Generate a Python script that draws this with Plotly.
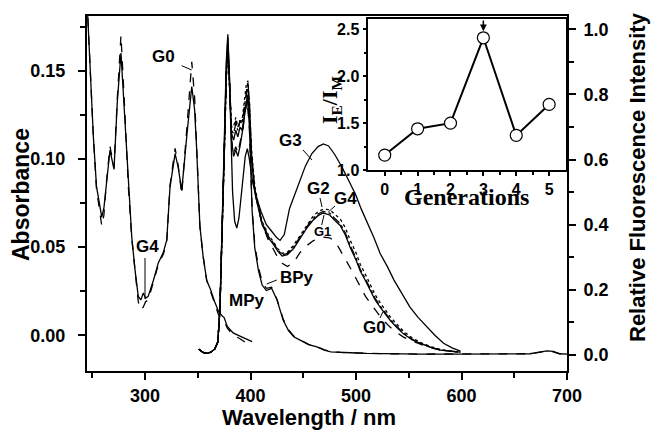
import plotly.graph_objects as go

# ---------------- data ----------------
# Absorption spectra (left axis)
abs_wl = [245, 248, 251, 254, 257.3, 259, 261, 263.6, 266.8, 270.6, 273.7, 277.2, 281, 284.2, 287.4,
          290.5, 293.6, 296, 298.4, 300.5, 303, 307.9, 312.6, 317.4, 320.6, 323.7, 328.5, 331.5, 334.8,
          339.6, 344.3, 347, 349, 352, 355, 358.5, 362, 366, 370, 373, 375, 378, 383.5, 390, 395, 401.5]
abs_G4 = [0.19, 0.15, 0.113, 0.0844, 0.073, 0.067, 0.072, 0.088, 0.105, 0.094, 0.132, 0.160, 0.122, 0.084,
          0.056, 0.037, 0.022, 0.020, 0.024, 0.021, 0.022, 0.031, 0.041, 0.047, 0.054, 0.084, 0.103, 0.095,
          0.082, 0.113, 0.141, 0.128, 0.105, 0.062, 0.045, 0.031, 0.026, 0.019, 0.013, 0.011, 0.010, 0.005,
          0.0013, -0.0005, -0.002, -0.0036]
abs_G0 = [0.19, 0.15, 0.113, 0.083, 0.070, 0.062, 0.068, 0.088, 0.107, 0.095, 0.134, 0.170, 0.125, 0.084,
          0.055, 0.035, 0.019, 0.0144, 0.016, 0.019, 0.020, 0.030, 0.040, 0.046, 0.053, 0.085, 0.106, 0.096,
          0.080, 0.117, 0.155, 0.135, 0.108, 0.062, 0.045, 0.031, 0.025, 0.018, 0.011, 0.009, 0.008, 0.004,
          0.000, -0.002, -0.004, -0.006]

# Fluorescence spectra (right axis)
em_wl = [351, 355, 358, 362, 366, 369, 371, 373, 375, 377, 378.5, 380, 382, 384, 386, 388, 390, 392, 394, 396,
         397.5, 399, 401, 404, 407.5, 411, 414, 417, 421.7, 426, 430, 435, 441, 447, 453, 459, 464, 469, 475,
         480, 485, 490, 494.5, 500, 504, 509, 513.5, 518, 523, 528, 532.5, 539, 545, 553, 561, 570, 580, 590, 599]
em_G0 = [0.018, 0.008, 0.005, 0.008, 0.018, 0.04, 0.14, 0.35, 0.60, 0.85, 0.95, 0.84, 0.70, 0.69, 0.72,
         0.69, 0.72, 0.71, 0.76, 0.81, 0.83, 0.76, 0.61, 0.50, 0.452, 0.40, 0.378, 0.352, 0.325, 0.298,
         0.282, 0.272, 0.285, 0.315, 0.335, 0.350, 0.358, 0.362, 0.360, 0.350, 0.322, 0.295, 0.268, 0.235,
         0.212, 0.180, 0.160, 0.140, 0.118, 0.100, 0.085, 0.068, 0.055, 0.043, 0.033, 0.023, 0.015, 0.011, 0.009]
em_G1 = [0.018, 0.008, 0.005, 0.008, 0.018, 0.04, 0.14, 0.35, 0.60, 0.85, 0.94, 0.83, 0.68, 0.66, 0.69,
         0.67, 0.70, 0.69, 0.73, 0.78, 0.80, 0.74, 0.60, 0.50, 0.452, 0.40, 0.381, 0.360, 0.340, 0.318,
         0.304, 0.308, 0.328, 0.358, 0.388, 0.413, 0.428, 0.436, 0.430, 0.413, 0.398, 0.368, 0.330, 0.292,
         0.258, 0.228, 0.197, 0.170, 0.146, 0.124, 0.106, 0.084, 0.065, 0.047, 0.035, 0.024, 0.015, 0.011, 0.009]
em_G2 = [0.018, 0.008, 0.005, 0.008, 0.018, 0.04, 0.14, 0.35, 0.60, 0.85, 0.95, 0.84, 0.69, 0.68, 0.71,
         0.69, 0.72, 0.71, 0.76, 0.82, 0.84, 0.77, 0.62, 0.51, 0.458, 0.405, 0.385, 0.364, 0.344, 0.322,
         0.308, 0.312, 0.333, 0.363, 0.393, 0.418, 0.433, 0.441, 0.436, 0.419, 0.404, 0.374, 0.336, 0.298,
         0.264, 0.233, 0.202, 0.175, 0.150, 0.128, 0.109, 0.087, 0.067, 0.049, 0.036, 0.025, 0.016, 0.011, 0.009]
em_G4 = [0.018, 0.008, 0.005, 0.008, 0.018, 0.04, 0.14, 0.35, 0.60, 0.85, 0.95, 0.84, 0.70, 0.70, 0.73,
         0.70, 0.72, 0.72, 0.77, 0.83, 0.842, 0.78, 0.63, 0.52, 0.462, 0.41, 0.39, 0.368, 0.348, 0.326,
         0.312, 0.316, 0.338, 0.368, 0.398, 0.425, 0.440, 0.448, 0.446, 0.432, 0.418, 0.390, 0.352, 0.314,
         0.279, 0.247, 0.214, 0.186, 0.160, 0.137, 0.117, 0.094, 0.073, 0.053, 0.039, 0.027, 0.017, 0.012, 0.009]

g3_wl = [351, 355, 358, 362, 366, 369, 371, 373, 375, 377, 378.5, 380, 381.5, 383, 385, 387, 389, 392, 395,
         397, 399, 402, 406, 410, 415, 420, 425, 428, 432, 437, 445, 452, 458, 464, 469, 474, 480, 487, 494,
         500, 505, 510, 517, 523, 530, 536, 543, 551, 559, 567, 575, 583, 591, 599]
em_G3 = [0.018, 0.008, 0.005, 0.008, 0.018, 0.04, 0.14, 0.35, 0.62, 0.88, 0.975, 0.85, 0.65, 0.50, 0.41,
         0.39, 0.42, 0.52, 0.61, 0.634, 0.60, 0.53, 0.48, 0.44, 0.40, 0.38, 0.36, 0.352, 0.37, 0.45, 0.52,
         0.58, 0.618, 0.64, 0.648, 0.642, 0.615, 0.575, 0.53, 0.49, 0.448, 0.413, 0.36, 0.311, 0.27, 0.23,
         0.19, 0.148, 0.115, 0.087, 0.06, 0.036, 0.022, 0.012]

py_wl = [351, 355, 358, 362, 366, 369, 371, 373, 375, 377, 378.5, 380, 382, 384, 386, 388, 390, 393, 395,
         397, 399, 401.5, 404, 407.5, 411, 415, 420, 425, 431, 436, 441, 447, 455, 463, 470, 476, 485, 495,
         510, 530, 560, 600, 640, 665, 675, 681, 687, 693, 700]
em_MPy = [0.018, 0.008, 0.005, 0.008, 0.018, 0.04, 0.14, 0.36, 0.64, 0.90, 0.985, 0.86, 0.66, 0.61, 0.63,
          0.61, 0.64, 0.70, 0.76, 0.79, 0.70, 0.444, 0.33, 0.26, 0.215, 0.198, 0.205, 0.17, 0.107, 0.075,
          0.056, 0.046, 0.032, 0.025, 0.015, 0.010, 0.008, 0.007, 0.005, 0.004, 0.003, 0.003, 0.003, 0.004,
          0.010, 0.013, 0.011, 0.004, 0.003]
em_BPy = [0.018, 0.008, 0.005, 0.008, 0.018, 0.04, 0.14, 0.35, 0.62, 0.87, 0.95, 0.84, 0.66, 0.62, 0.64,
          0.62, 0.65, 0.70, 0.75, 0.78, 0.69, 0.45, 0.34, 0.27, 0.225, 0.205, 0.208, 0.172, 0.110, 0.078,
          0.058, 0.047, 0.033, 0.025, 0.016, 0.011, 0.008, 0.007, 0.005, 0.004, 0.003, 0.003, 0.003, 0.004,
          0.009, 0.012, 0.010, 0.004, 0.003]

# Inset: IE/IM vs generation
generations = [0, 1, 2, 3, 4, 5]
ie_im = [1.16, 1.44, 1.50, 2.41, 1.37, 1.70]

# Tick values / labels
x_ticks = [300, 400, 500, 600, 700]
x_minor = [250, 350, 450, 550, 650]
abs_ticks = [0.00, 0.05, 0.10, 0.15]
abs_labels = ["0.00", "0.05", "0.10", "0.15"]
abs_minor = [0.025, 0.075, 0.125, 0.175]
fl_ticks = [0.0, 0.2, 0.4, 0.6, 0.8, 1.0]
fl_labels = ["0.0", "0.2", "0.4", "0.6", "0.8", "1.0"]
fl_minor = [0.1, 0.3, 0.5, 0.7, 0.9]
in_yticks = [1.0, 1.5, 2.0, 2.5]
in_ylabels = ["1.0", "1.5", "2.0", "2.5"]
in_yminor = [1.25, 1.75, 2.25]
in_xminor = [0.5, 1.5, 2.5, 3.5, 4.5]

# ---------------- figure ----------------
fig = go.Figure()
LW = 1.3
blk = "black"

def line(x, y, dash, yaxis="y", xaxis="x", w=LW):
    fig.add_trace(go.Scatter(x=x, y=y, mode="lines", xaxis=xaxis, yaxis=yaxis,
                             line=dict(color=blk, width=w, dash=dash), hoverinfo="skip"))

line(abs_wl, abs_G0, "dash")
line(abs_wl, abs_G4, "solid")
line(em_wl, em_G0, "dash", yaxis="y2")
line(em_wl, em_G1, "solid", yaxis="y2")
line(em_wl, em_G2, "dashdot", yaxis="y2")
line(em_wl, em_G4, "dot", yaxis="y2")
line(g3_wl, em_G3, "solid", yaxis="y2")
line(py_wl, em_BPy, "dash", yaxis="y2")
line(py_wl, em_MPy, "solid", yaxis="y2")

fig.add_trace(go.Scatter(x=generations, y=ie_im, mode="lines+markers", xaxis="x3", yaxis="y3",
                         line=dict(color=blk, width=2),
                         marker=dict(size=12, color="white", line=dict(color=blk, width=1.2)),
                         hoverinfo="skip"))

tf = dict(family="Liberation Sans", size=18, color=blk, weight="bold")
tfi = dict(family="Liberation Sans", size=16, color=blk, weight="bold")

common = dict(showgrid=False, zeroline=False, showline=True, linecolor=blk, ticks="outside",
              tickcolor=blk, automargin=False)

fig.update_layout(
    width=652, height=430, margin=dict(l=87, r=85, t=16, b=59),
    plot_bgcolor="white", paper_bgcolor="white", showlegend=False,
    font=dict(family="Liberation Sans", color=blk),
    xaxis=dict(**common, range=[245, 700], tickvals=x_ticks, linewidth=2, tickwidth=2, ticklen=7,
               mirror=True, tickfont=tf, ticklabelstandoff=0,
               minor=dict(tickvals=x_minor, ticklen=5, tickwidth=2, ticks="outside", tickcolor=blk)),
    yaxis=dict(**common, range=[-0.0203, 0.181], tickvals=abs_ticks, ticktext=abs_labels, linewidth=2,
               tickwidth=2, ticklen=7, tickfont=tf, ticklabelstandoff=9,
               minor=dict(tickvals=abs_minor, ticklen=5, tickwidth=2, ticks="outside", tickcolor=blk)),
    yaxis2=dict(**common, range=[-0.049, 1.041], tickvals=fl_ticks, ticktext=fl_labels, linewidth=2,
                tickwidth=2, ticklen=7, tickfont=tf, overlaying="y", side="right", ticklabelstandoff=4,
                minor=dict(tickvals=fl_minor, ticklen=5, tickwidth=2, ticks="outside", tickcolor=blk)),
    xaxis3=dict(**common, domain=[0.586, 0.997], anchor="y3", range=[-0.5, 5.5], tickvals=generations,
                linewidth=1.5, tickwidth=1.5, ticklen=4, mirror=True, tickfont=tfi,
                minor=dict(tickvals=in_xminor, ticklen=3, tickwidth=1.5, ticks="outside", tickcolor=blk)),
    yaxis3=dict(**common, domain=[0.566, 0.9915], anchor="x3", range=[1.0, 2.61], tickvals=in_yticks,
                ticktext=in_ylabels, linewidth=1.5, tickwidth=1.5, ticklen=4, mirror=True, tickfont=tfi,
                ticklabelstandoff=0,
                minor=dict(tickvals=in_yminor, ticklen=3, tickwidth=1.5, ticks="outside", tickcolor=blk)),
)

def px(xp):
    return (xp - 87) / 480.0

def py(yp):
    return (371 - yp) / 355.0

bold = dict(family="Liberation Sans", color=blk, weight="bold")
ann = []
# axis titles
ann.append(dict(text="Absorbance", x=px(21), y=py(195), textangle=-90, font=dict(**bold, size=23)))
ann.append(dict(text="Wavelength / nm", x=px(309), y=py(417), font=dict(**bold, size=22)))
ann.append(dict(text="Relative Fluorescence Intensity", x=px(638), y=py(177), textangle=-90,
                font=dict(**bold, size=22)))
ann.append(dict(text="Generations", x=px(466), y=py(197),
                font=dict(family="Liberation Serif", size=24, color=blk, weight="bold")))
ann.append(dict(text="I<sub>E</sub>/I<sub>M</sub>", x=px(331), y=py(100), textangle=-90,
                font=dict(family="Liberation Serif", size=22, color=blk, weight="bold")))
# curve labels
labels = [("G0", 163, 57, 17), ("G4", 147, 246, 17), ("G3", 290, 140, 17), ("G2", 318, 188, 17),
          ("G4", 345, 198, 17), ("G1", 322, 231, 13), ("BPy", 297, 277, 17), ("MPy", 247, 300, 17),
          ("G0", 374, 327, 17)]
for t, xx, yy, s in labels:
    ann.append(dict(text=t, x=px(xx), y=py(yy), font=dict(**bold, size=s)))
for a in ann:
    a.update(xref="paper", yref="paper", showarrow=False, xanchor="center", yanchor="middle")
# inset arrow
ann.append(dict(x=3, y=2.48, ax=3, ay=2.61, xref="x3", yref="y3", axref="x3", ayref="y3",
                showarrow=True, arrowhead=2, arrowsize=0.9, arrowwidth=1.5, arrowcolor=blk, text=""))
fig.update_layout(annotations=ann)

pointers = [((181.7, 65.7), (191.7, 70)), ((145, 258), (145, 299)), ((303, 150), (312, 160)),
            ((320, 198), (322, 207)), ((335, 206), (328.3, 212)), ((321.7, 225), (324, 215)),
            ((276.7, 280), (266.7, 284)), ((380, 318), (383, 311.7))]
shapes = []
for (x0, y0), (x1, y1) in pointers:
    shapes.append(dict(type="line", xref="paper", yref="paper", x0=px(x0), y0=py(y0), x1=px(x1), y1=py(y1),
                       line=dict(color=blk, width=1)))
fig.update_layout(shapes=shapes)

fig.write_html("out.html", config={"displayModeBar": False},
               post_script="document.body.style.margin='0px';document.body.style.overflow='hidden';")
